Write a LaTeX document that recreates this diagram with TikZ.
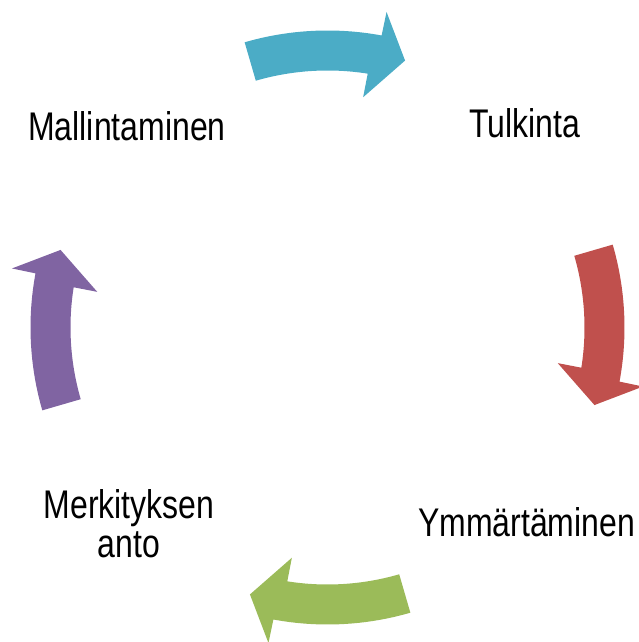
\documentclass[tikz,border=0pt]{standalone}
\usepackage{fontspec}
\newfontfamily\labfont[FakeStretch=0.80]{Liberation Sans}
\definecolor{arrowA}{HTML}{4BACC6}
\definecolor{arrowB}{HTML}{C0504D}
\definecolor{arrowC}{HTML}{9BBB59}
\definecolor{arrowD}{HTML}{8064A2}
\tikzset{
  lab/.style={font=\labfont\fontsize{40}{39}\selectfont, inner sep=0pt, align=center, text=black},
}
\newcommand{\cyclearrow}[2]{%
  \fill[#2] (#1:297) arc[start angle=#1, end angle=#1-26.7, radius=297]
    -- (#1-26.8:321) -- (#1-32.4:278) -- (#1-25:233) -- (#1-25.2:257)
    arc[start angle=#1-25.2, end angle=#1, radius=257] -- cycle;}
\begin{document}
\begin{tikzpicture}[x=1pt,y=1pt]
\useasboundingbox (0,0) rectangle (639,642);
\begin{scope}[shift={(327.5,314.5)}]
  \cyclearrow{106.2}{arrowA}
  \cyclearrow{16.2}{arrowB}
  \cyclearrow{-73.8}{arrowC}
  \cyclearrow{-163.8}{arrowD}
\end{scope}
\node[lab, anchor=base] (mal) at (127,501) {Mallintaminen};
\node[lab, anchor=base] (tul) at (525,504) {Tulkinta};
\node[lab, anchor=base] (ymm) at (526.5,105) {Ymmärtäminen};
\node[lab, anchor=base] (mer) at (129,84) {Merkityksen\\anto};
\end{tikzpicture}
\end{document}
